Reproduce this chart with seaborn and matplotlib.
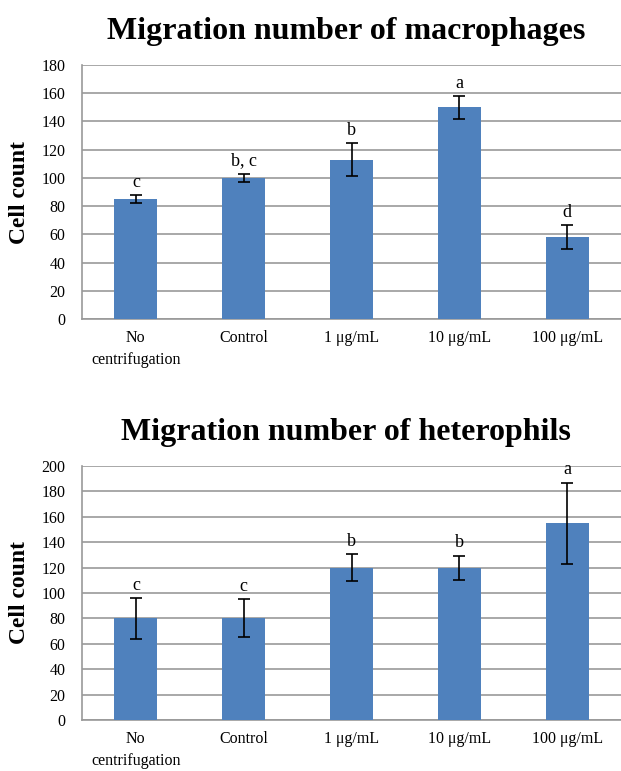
import matplotlib
matplotlib.use("Agg")
import matplotlib.pyplot as plt
import seaborn as sns
import pandas as pd

categories = ["No\ncentrifugation", "Control", "1 μg/mL", "10 μg/mL", "100 μg/mL"]

macro_mean = [85, 100, 113, 150, 58]
macro_err = [3, 3, 11.5, 8, 8.5]
macro_letters = ["c", "b, c", "b", "a", "d"]

hetero_mean = [80, 80, 120, 120, 155]
hetero_err = [16, 15, 10.5, 9.5, 32]
hetero_letters = ["c", "c", "b", "b", "a"]

sns.set_theme(style="white")
plt.rcParams["font.family"] = ["Liberation Serif", "DejaVu Serif"]
plt.rcParams["text.color"] = "black"
plt.rcParams["xtick.color"] = "black"
plt.rcParams["ytick.color"] = "black"
plt.rcParams["axes.labelcolor"] = "black"

BAR = "#4F81BD"
GRID = "#999999"

W, H = 621, 771
fig = plt.figure(figsize=(W / 100, H / 100), dpi=100)
fig.patch.set_facecolor("white")


def panel(top_px, mean, err, letters, ymax, title):
    ax = fig.add_axes([82 / W, (H - top_px - 254) / H, (W - 82) / W, 254 / H])
    df = pd.DataFrame({"group": categories, "count": mean})
    sns.barplot(data=df, x="group", y="count", color=BAR, width=0.4,
                errorbar=None, saturation=1, linewidth=0, ax=ax, zorder=3)
    xs = range(len(categories))
    ax.errorbar(xs, mean, yerr=err, fmt="none", ecolor="black",
                elinewidth=1.2, capsize=4, capthick=1.2, zorder=4)
    for x, m, e, lab in zip(xs, mean, err, letters):
        ax.annotate(lab, (x, m + e), xytext=(0, 3), textcoords="offset points",
                    ha="center", va="bottom", fontsize=13, color="black")
    ax.set_ylim(0, ymax)
    ax.set_xlim(-0.5, len(categories) - 0.5)
    ax.set_yticks(range(0, ymax + 1, 20))
    ax.yaxis.grid(True, color=GRID, linewidth=1.2, zorder=0)
    ax.set_axisbelow(True)
    for s in ["top", "right"]:
        ax.spines[s].set_visible(False)
    for s in ["left", "bottom"]:
        ax.spines[s].set_color(GRID)
        ax.spines[s].set_linewidth(1.2)
    ax.tick_params(axis="y", length=0, pad=12, labelsize=11.5)
    ax.tick_params(axis="x", length=0, pad=8, labelsize=11.5)
    for t in ax.get_xticklabels():
        t.set_linespacing(1.45)
    ax.set_xlabel("")
    ax.set_ylabel("Cell count", fontsize=17, fontweight="bold", labelpad=8)
    ax.set_title(title, fontsize=23, fontweight="bold", pad=19, x=0.49)
    return ax


panel(65, macro_mean, macro_err, macro_letters, 180, "Migration number of macrophages")
panel(466, hetero_mean, hetero_err, hetero_letters, 200, "Migration number of heterophils")

fig.savefig("out.png", dpi=100)
